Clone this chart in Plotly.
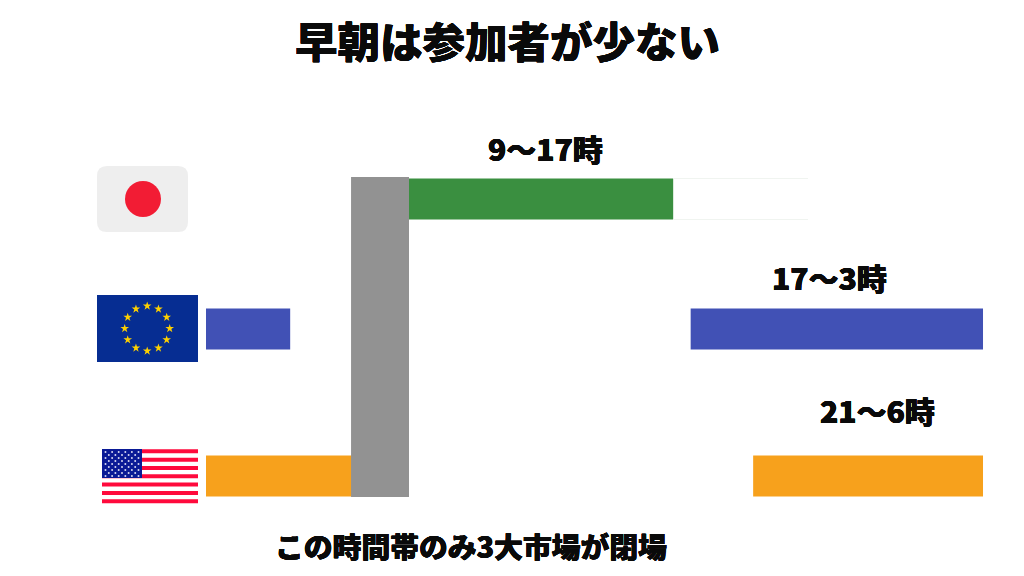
import numpy as np
import plotly.graph_objs as go

# market hours (0 and 24 are the two ends of the day scale)
japan_starts = [5.0]
japan_ends = [14.43]
europe_starts = [0.0, 14.97]
europe_ends = [2.6, 24.0]
us_starts = [0.0, 16.9]
us_ends = [5.0, 24.0]
closed_start = 4.48
closed_end = 6.27

markets = ['Japan', 'Europe', 'US']
rows = [0.0, 1.0, 2.13]
closed_row_top = -0.169
closed_row_span = 2.461

title_text = '早朝は参加者が少ない'
caption_text = 'この時間帯のみ3大市場が閉場'
session_labels = ['9〜17時', '17〜3時', '21〜6時']

GREEN = '#3a8f40'
BLUE = '#4151b5'
ORANGE = '#f7a11c'
GREY = '#929292'
JP_FONT = 'Noto Sans CJK JP'
INK = '#0a0a0a'
# thickens the glyphs a little, the original lettering is a heavier display face
HEAVY = ', '.join(f'{dx}px {dy}px 0 {INK}' for dx, dy in
                  [(0.35, 0), (-0.35, 0), (0, 0.35), (0, -0.35)])


def market_bar(name, row, starts, ends, color):
    widths = [e - s for s, e in zip(starts, ends)]
    return go.Bar(x=widths, y=[row] * len(starts), base=starts, orientation='h',
                  width=0.315, name=name, marker=dict(color=color, line=dict(width=0)))


def rect(x0, y0, x1, y1, color):
    return dict(type='rect', xref='x2', yref='y2', x0=x0, y0=y0, x1=x1, y1=y1,
                fillcolor=color, line=dict(width=0), layer='below')


def label(text, x, y, size):
    return dict(text=text, xref='x2', yref='y2', x=x, y=y, showarrow=False,
                xanchor='center', yanchor='middle',
                font=dict(family=JP_FONT, size=size, color=INK, weight=900, shadow=HEAVY))


traces = [
    market_bar(markets[0], rows[0], japan_starts, japan_ends, GREEN),
    market_bar(markets[1], rows[1], europe_starts, europe_ends, BLUE),
    market_bar(markets[2], rows[2], us_starts, us_ends, ORANGE),
    # closed band runs across all three rows
    go.Bar(x=[(closed_start + closed_end) / 2], y=[closed_row_span], base=[closed_row_top],
           width=[closed_end - closed_start], orientation='v', name='closed',
           marker=dict(color=GREY, line=dict(width=0))),
]

# flags, in page pixels on the overlaid axes
ang = np.arange(12) * np.pi / 6
traces.append(go.Scatter(x=147.2 + 22.5 * np.sin(ang), y=328.5 - 22.5 * np.cos(ang),
                         mode='markers', xaxis='x2', yaxis='y2',
                         marker=dict(symbol='star', size=6.5, color='#fdd000', line=dict(width=0))))

star_x = []
star_y = []
for r in range(9):
    cols = 6 if r % 2 == 0 else 5
    off = 0 if r % 2 == 0 else 3.3
    for c in range(cols):
        star_x.append(105.5 + off + c * 6.6)
        star_y.append(452 + r * 3.0)
traces.append(go.Scatter(x=star_x, y=star_y, mode='markers', xaxis='x2', yaxis='y2',
                         marker=dict(symbol='circle', size=2, color='#d8d8f0', line=dict(width=0))))

shapes = [
    # rounded japanese flag
    dict(type='path', xref='x2', yref='y2', layer='below', fillcolor='#eeeeee', line=dict(width=0),
         path='M 107 166 L 178 166 Q 188 166 188 176 L 188 222 Q 188 232 178 232 '
              'L 107 232 Q 97 232 97 222 L 97 176 Q 97 166 107 166 Z'),
    dict(type='circle', xref='x2', yref='y2', layer='below', x0=125, x1=161, y0=181, y1=217,
         fillcolor='#f21c34', line=dict(width=0)),
    rect(97, 295, 198, 362, '#062d92'),
    # faint outline of the unused part of the japan bar
    dict(type='line', xref='x2', yref='y2', x0=673, x1=808, y0=178.5, y1=178.5,
         line=dict(color='#f0f4f0', width=1)),
    dict(type='line', xref='x2', yref='y2', x0=673, x1=808, y0=219.5, y1=219.5,
         line=dict(color='#f0f4f0', width=1)),
]
for i in range(7):
    shapes.append(rect(102, 449.3 + i * 8.33, 198, 453.3 + i * 8.33, '#ff0a3c'))
shapes.append(rect(102, 449, 142, 478, '#0a1a96'))

annotations = [
    label(title_text, 507, 39, 42.5),
    label(session_labels[0], 545, 147.5, 30),
    label(session_labels[1], 829, 276.5, 30),
    label(session_labels[2], 877, 409.5, 30),
    label(caption_text, 471, 545, 28.8),
]

layout = go.Layout(
    width=1024,
    height=576,
    showlegend=False,
    barmode='overlay',
    paper_bgcolor='white',
    plot_bgcolor='white',
    margin=dict(l=0, r=0, t=0, b=0),
    xaxis=dict(range=[-6.363, 25.266], visible=False, fixedrange=True),
    yaxis=dict(range=[2.900, -1.531], visible=False, fixedrange=True),
    xaxis2=dict(range=[0, 1024], visible=False, overlaying='x', fixedrange=True),
    yaxis2=dict(range=[576, 0], visible=False, overlaying='y', fixedrange=True),
    shapes=shapes,
    annotations=annotations,
)

fig = go.Figure(data=traces, layout=layout)
fig.write_html("out.html", post_script="document.body.style.margin='0';",
               config=dict(displayModeBar=False))
